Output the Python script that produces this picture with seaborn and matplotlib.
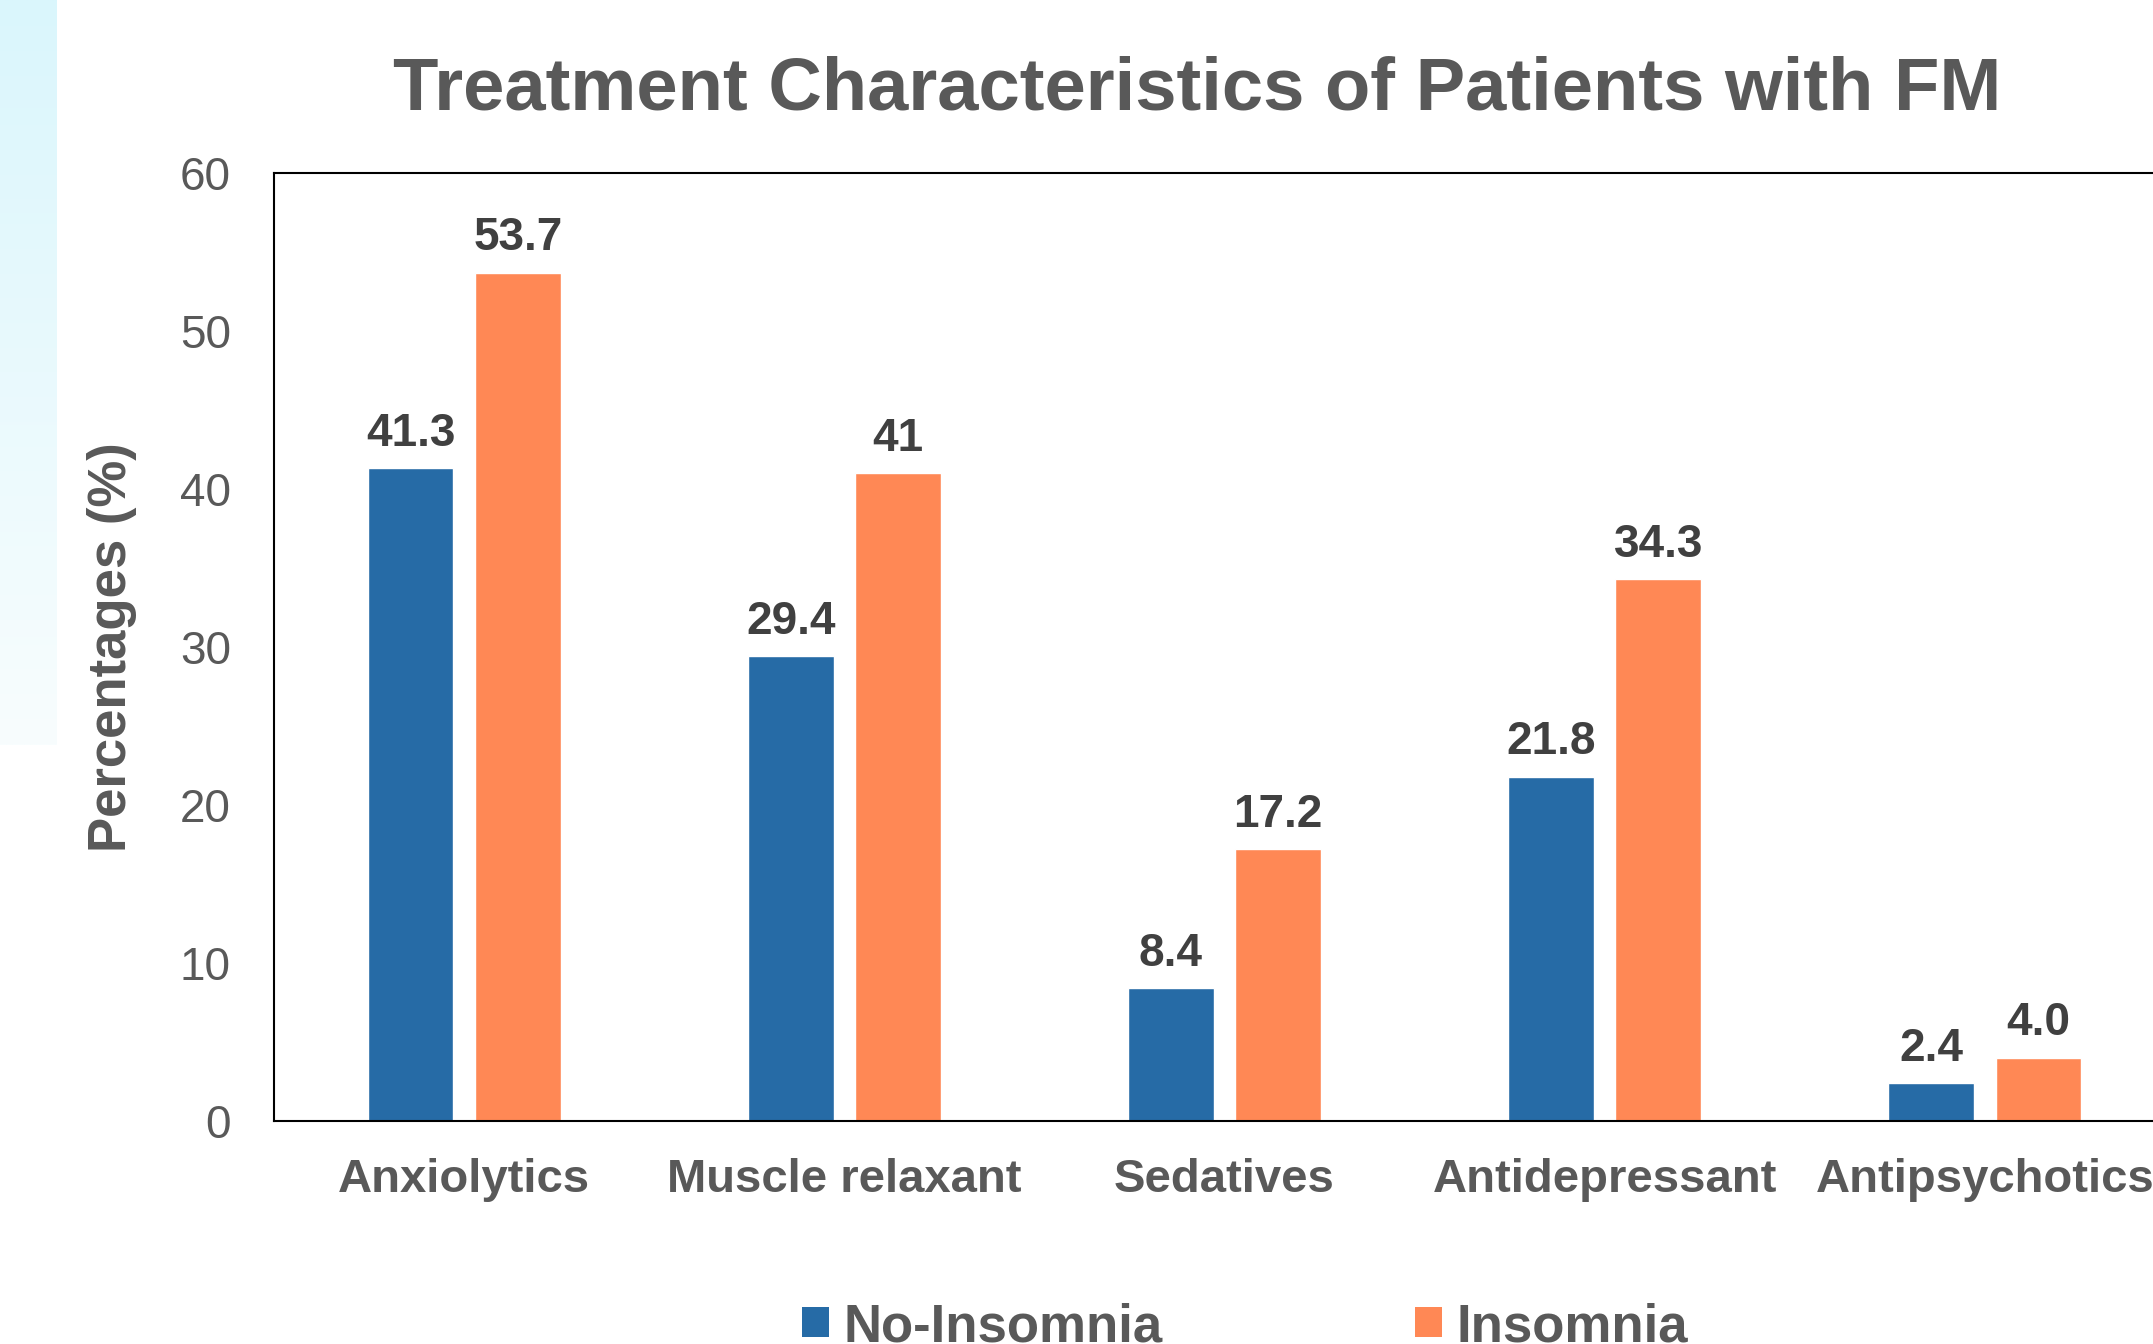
import numpy as np
import pandas as pd
import matplotlib
matplotlib.use('Agg')
import matplotlib.pyplot as plt
import seaborn as sns
from matplotlib.patches import Patch
from matplotlib.colors import LinearSegmentedColormap

# data
categories = ['Anxiolytics', 'Muscle relaxant', 'Sedatives', 'Antidepressant', 'Antipsychotics']
no_insomnia = [41.3, 29.4, 8.4, 21.8, 2.4]
insomnia = [53.7, 41, 17.2, 34.3, 4.0]
no_insomnia_labels = ['41.3', '29.4', '8.4', '21.8', '2.4']
insomnia_labels = ['53.7', '41', '17.2', '34.3', '4.0']
groups = ['No-Insomnia', 'Insomnia']
colors = ['#266BA6', '#FF8855']

df = pd.DataFrame({
    'category': categories * 2,
    'value': no_insomnia + insomnia,
    'group': [groups[0]] * len(categories) + [groups[1]] * len(categories),
})

sns.set_style('white')
plt.rcParams['font.family'] = ['Liberation Sans', 'DejaVu Sans']

W, H = 2153, 1344
fig = plt.figure(figsize=(W / 100, H / 100), dpi=100)

# light cyan strip at the left edge
strip = fig.add_axes([0, 1 - 745 / H, 57 / W, 745 / H])
grad = np.linspace(0, 1, 256).reshape(-1, 1)
cm = LinearSegmentedColormap.from_list('strip', ['#DAF6FC', '#F8FDFE'])
strip.imshow(grad, aspect='auto', cmap=cm)
strip.axis('off')

ax = fig.add_axes([274 / W, 1 - 1121 / H, (2175 - 274) / W, (1121 - 173) / H])

sns.barplot(data=df, x='category', y='value', hue='group', palette=colors,
            width=0.564, gap=0.2, ax=ax, legend=False, saturation=1)

for cont, labs in zip(ax.containers, [no_insomnia_labels, insomnia_labels]):
    ax.bar_label(cont, labels=labs, padding=9, fontsize=33, fontweight='bold', color='#404040')

ax.set_ylim(0, 60)
ax.set_yticks(range(0, 61, 10))
ax.set_xlim(-0.5, len(categories) - 0.5)
ax.tick_params(axis='y', length=0, pad=31, labelsize=33, labelcolor='#595959')
ax.tick_params(axis='x', length=0, pad=27, labelsize=34, labelcolor='#595959')
for t in ax.get_xticklabels():
    t.set_fontweight('bold')
ax.set_xlabel('')
ax.set_ylabel('Percentages (%)', fontsize=38, fontweight='bold', color='#595959')
ax.yaxis.set_label_coords(-0.072, 0.5)
for s in ax.spines.values():
    s.set_color('black')
    s.set_linewidth(1.5)

fig.text(1197 / W, 1 - 110 / H, 'Treatment Characteristics of Patients with FM',
         ha='center', va='baseline', fontsize=53.5, fontweight='bold', color='#595959')

handles = [Patch(facecolor=c, edgecolor='none') for c in colors]
fig.legend(handles, groups, loc='center', bbox_to_anchor=(1245 / W, 1 - 1327 / H),
           ncol=2, frameon=False, prop={'size': 38, 'weight': 'bold'},
           labelcolor='#595959', handlelength=0.51, handleheight=0.51,
           handletextpad=0.28, columnspacing=4.77)

fig.savefig('out.png', dpi=100)
